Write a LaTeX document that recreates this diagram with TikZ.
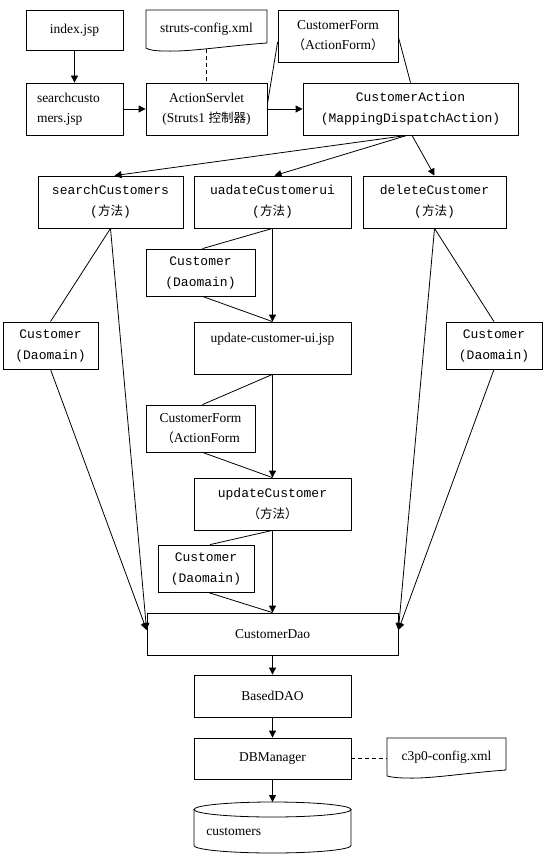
\documentclass[tikz,border=0pt]{standalone}
\usepackage{fontspec}
\setmainfont{Liberation Serif}
\setmonofont{Liberation Mono}
\newfontfamily\cjkfam{Noto Sans CJK SC}
\newcommand\zhtext[1]{{\cjkfam\fontsize{12.5}{20}\selectfont #1}}
\usetikzlibrary{arrows.meta}
\begin{document}
\begin{tikzpicture}[x=1pt,y=-1pt,line width=0.8pt,
  box/.style={draw,inner sep=0pt,align=center},
  plain/.style={inner sep=0pt,align=center},
  sf/.style={font=\fontsize{13.5}{20}\selectfont},
  mf/.style={font=\fontsize{13}{21}\selectfont\ttfamily},
  arr/.style={-{Triangle[length=7pt,width=7pt]}},
  dashlink/.style={dash pattern=on 4pt off 3pt}]
\useasboundingbox (0,0) rectangle (546,856);
\fill[white] (0,0) rectangle (546,856);

% top area
\node[box,sf,minimum width=97pt,minimum height=40pt] (index) at (74.5,30) {index.jsp};
\node[box,sf,minimum width=97pt,minimum height=52pt,text width=75pt,align=left] (searchjsp) at (74.5,109) {searchcusto\\mers.jsp};
\node[plain,sf,minimum width=121pt,minimum height=40pt] (struts) at (206.5,29) {struts-config.xml};
\draw (146,10) -- (267,10) -- (267,43) .. controls (225,46) and (190,52) .. (165,51) .. controls (155,51) and (149,50) .. (146,48) -- cycle;
\node[box,sf,minimum width=120pt,minimum height=52pt] (form1) at (338,36) {CustomerForm\\\zhtext{（}ActionForm\zhtext{）}};
\node[box,sf,minimum width=121pt,minimum height=52pt] (servlet) at (206.5,109) {ActionServlet\\(Struts1 \zhtext{控制器})};
\node[box,mf,minimum width=215pt,minimum height=52pt] (action) at (410.5,109) {CustomerAction\\(MappingDispatchAction)};

% methods
\node[box,mf,minimum width=145pt,minimum height=52pt] (searchM) at (110.5,202) {searchCustomers\\(\zhtext{方法})};
\node[box,mf,minimum width=157pt,minimum height=52pt] (uadate) at (272.5,202) {uadateCustomerui\\(\zhtext{方法})};
\node[box,mf,minimum width=143pt,minimum height=52pt] (deleteM) at (434.5,202) {deleteCustomer\\(\zhtext{方法})};

\node[box,mf,minimum width=109pt,minimum height=47pt] (cust1) at (200.5,272.5) {Customer\\(Daomain)};
\node[box,sf,minimum width=157pt,minimum height=52pt] (uijsp) at (272.5,348) {update-customer-ui.jsp\\\mbox{}};
\node[box,mf,minimum width=95pt,minimum height=47pt] (custL) at (50.5,345.5) {Customer\\(Daomain)};
\node[box,mf,minimum width=96pt,minimum height=47pt] (custR) at (494,345.5) {Customer\\(Daomain)};
\node[box,sf,minimum width=109pt,minimum height=47pt] (form2) at (200.5,428.5) {CustomerForm\\\zhtext{（}ActionForm};
\node[box,mf,minimum width=157pt,minimum height=52pt] (updM) at (272.5,504) {updateCustomer\\\zhtext{（方法）}};
\node[box,mf,minimum width=96pt,minimum height=47pt] (cust2) at (206,568.5) {Customer\\(Daomain)};

% lower
\node[box,sf,minimum width=251pt,minimum height=42pt] (dao) at (272.5,634) {CustomerDao};
\node[box,sf,minimum width=157pt,minimum height=42pt] (based) at (272.5,696) {BasedDAO};
\node[box,sf,minimum width=157pt,minimum height=41pt] (dbm) at (272.5,758.5) {DBManager};
\node[plain,sf,minimum width=119pt,minimum height=38pt] (c3p0) at (446.5,757) {c3p0-config.xml};
\draw (387,738) -- (506,738) -- (506,770) .. controls (465,773) and (430,779) .. (407,778) .. controls (397,778) and (391,777) .. (387,776) -- cycle;

% database cylinder
\draw (194,809.5) -- (194,845.5) arc[start angle=180,end angle=360,x radius=78.5pt,y radius=7.5pt] -- (351,809.5);
\draw (272.5,809.5) ellipse [x radius=78.5pt,y radius=7.5pt];
\coordinate (dbtop) at (272.5,802);
\node[plain,sf,anchor=west] (dbtext) at (206,832) {customers};

% connectors
\draw[arr] (index) -- (searchjsp);
\draw[arr] (searchjsp) -- (servlet);
\draw[arr] (servlet) -- (action);
\draw[dashlink] (struts.south) -- (servlet.north);
\draw ([yshift=-6pt]form1.west) -- ([yshift=5pt]servlet.east);
\draw ([yshift=-1pt]form1.east) -- (action.north);
\draw[arr] ([xshift=-3.5pt]action.south) -- ([xshift=4pt]searchM.north);
\draw[arr] ([xshift=-3.5pt]action.south) -- ([xshift=2pt]uadate.north);
\draw[arr] ([xshift=1.5pt]action.south) -- (deleteM.north);

\draw (searchM.south) -- (custL.north);
\draw[arr] (searchM.south) -- ([yshift=4pt]dao.west);
\draw[arr] (custL.south) -- ([yshift=4pt]dao.west);
\draw (deleteM.south) -- (custR.north);
\draw[arr] (deleteM.south) -- ([yshift=4pt]dao.east);
\draw[arr] (custR.south) -- ([yshift=4pt]dao.east);

\draw[arr] (uadate) -- (uijsp);
\draw (uadate.south) -- ([xshift=2pt]cust1.north);
\draw ([xshift=2pt]cust1.south) -- (uijsp.north);
\draw[arr] (uijsp) -- (updM);
\draw (uijsp.south) -- ([xshift=2pt]form2.north);
\draw ([xshift=2pt]form2.south) -- (updM.north);
\draw[arr] (updM) -- (dao);
\draw (updM.south) -- ([xshift=4pt]cust2.north);
\draw ([xshift=2pt]cust2.south) -- (dao.north);

\draw[arr] (dao) -- (based);
\draw[arr] (based) -- (dbm);
\draw[arr] (dbm) -- (dbtop);
\draw[dashlink] (dbm.east) -- (dbm.east -| c3p0.west);
\end{tikzpicture}
\end{document}
